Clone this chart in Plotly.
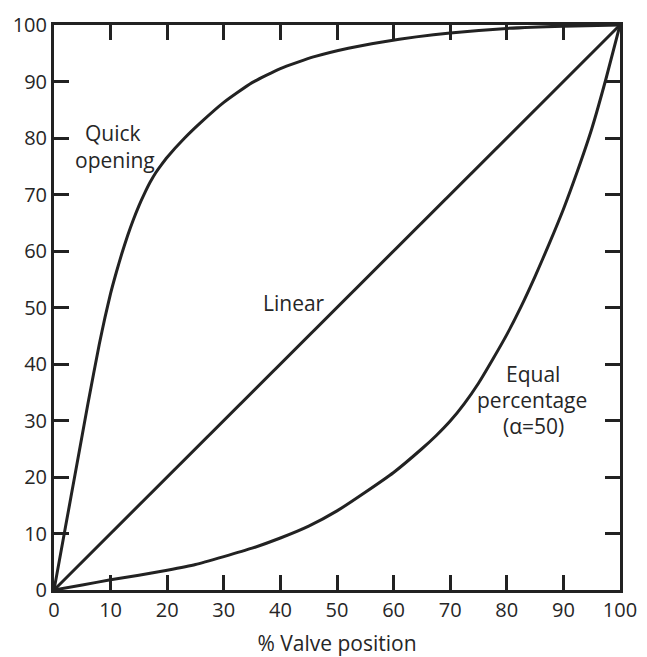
import plotly.graph_objects as go

# Data (% valve position vs % flow)
linear_x = [0, 100]
linear_y = [0, 100]

quick_x = [0, 2, 4, 6, 8, 9, 10, 11, 12, 13, 14, 15, 16, 17, 18, 19, 20, 23, 26, 30, 35, 40, 46, 52, 58, 64, 70, 80, 90, 100]
quick_y = [0, 11, 22, 33, 43.5, 48.2, 52.5, 56.2, 59.6, 62.7, 65.5, 68, 70.2, 72.2, 73.9, 75.3, 76.6, 79.9, 82.8, 86.3, 89.8, 92.3, 94.4, 95.9, 97.0, 97.9, 98.6, 99.4, 99.8, 100]

eq_x = [0, 5, 10, 15, 20, 25, 30, 35, 40, 45, 50, 55, 60, 65, 67.5, 70, 72.5, 75, 77.5, 80, 82.5, 85, 87.5, 90, 92.5, 95, 97.5, 100]
eq_y = [0, 0.9, 1.8, 2.6, 3.5, 4.5, 5.9, 7.4, 9.2, 11.3, 14, 17.3, 20.8, 25, 27.3, 29.9, 33.0, 36.6, 40.8, 45.2, 50.1, 55.5, 61.3, 67.4, 74.2, 81.6, 90.4, 100]

tick_vals = [0, 10, 20, 30, 40, 50, 60, 70, 80, 90, 100]
tick_text = [str(v) for v in tick_vals]

x_title = "% Valve position"

ink = "#222222"
txt = "#262626"
FONT = "Open Sans"

fig = go.Figure()
for xs, ys in [(linear_x, linear_y), (quick_x, quick_y), (eq_x, eq_y)]:
    fig.add_trace(go.Scatter(x=xs, y=ys, mode="lines",
                             line=dict(color=ink, width=3, shape="spline", smoothing=0.5),
                             hoverinfo="skip", showlegend=False))

labels = [
    ("Quick", 10.5, 80.9),
    ("opening", 10.8, 76.1),
    ("Linear", 42.4, 50.8),
    ("Equal", 84.7, 38.2),
    ("percentage", 84.4, 33.6),
    ("(α=50)", 84.7, 29.0),
]
for t, ax, ay in labels:
    fig.add_annotation(x=ax, y=ay, xref="x", yref="y", text=t, showarrow=False,
                       font=dict(family=FONT, size=21, color=txt))

axis_common = dict(
    range=[0, 100], tickvals=tick_vals, ticktext=tick_text,
    showline=True, linewidth=3, linecolor=ink, mirror="ticks",
    ticks="inside", ticklen=15, tickwidth=2.5, tickcolor=ink,
    showgrid=False, zeroline=False, automargin=False,
    tickfont=dict(family=FONT, size=20, color=txt),
)

# page body adds an 8px margin, so the figure is sized to fit inside it
fig.update_layout(
    width=639, height=649, autosize=False,
    margin=dict(l=46, r=27, t=17, b=67),
    paper_bgcolor="white", plot_bgcolor="white",
    xaxis=dict(**axis_common, title=dict(text=x_title, font=dict(family=FONT, size=21, color=txt), standoff=18)),
    yaxis=dict(**axis_common),
)

fig.write_html("out.html")
